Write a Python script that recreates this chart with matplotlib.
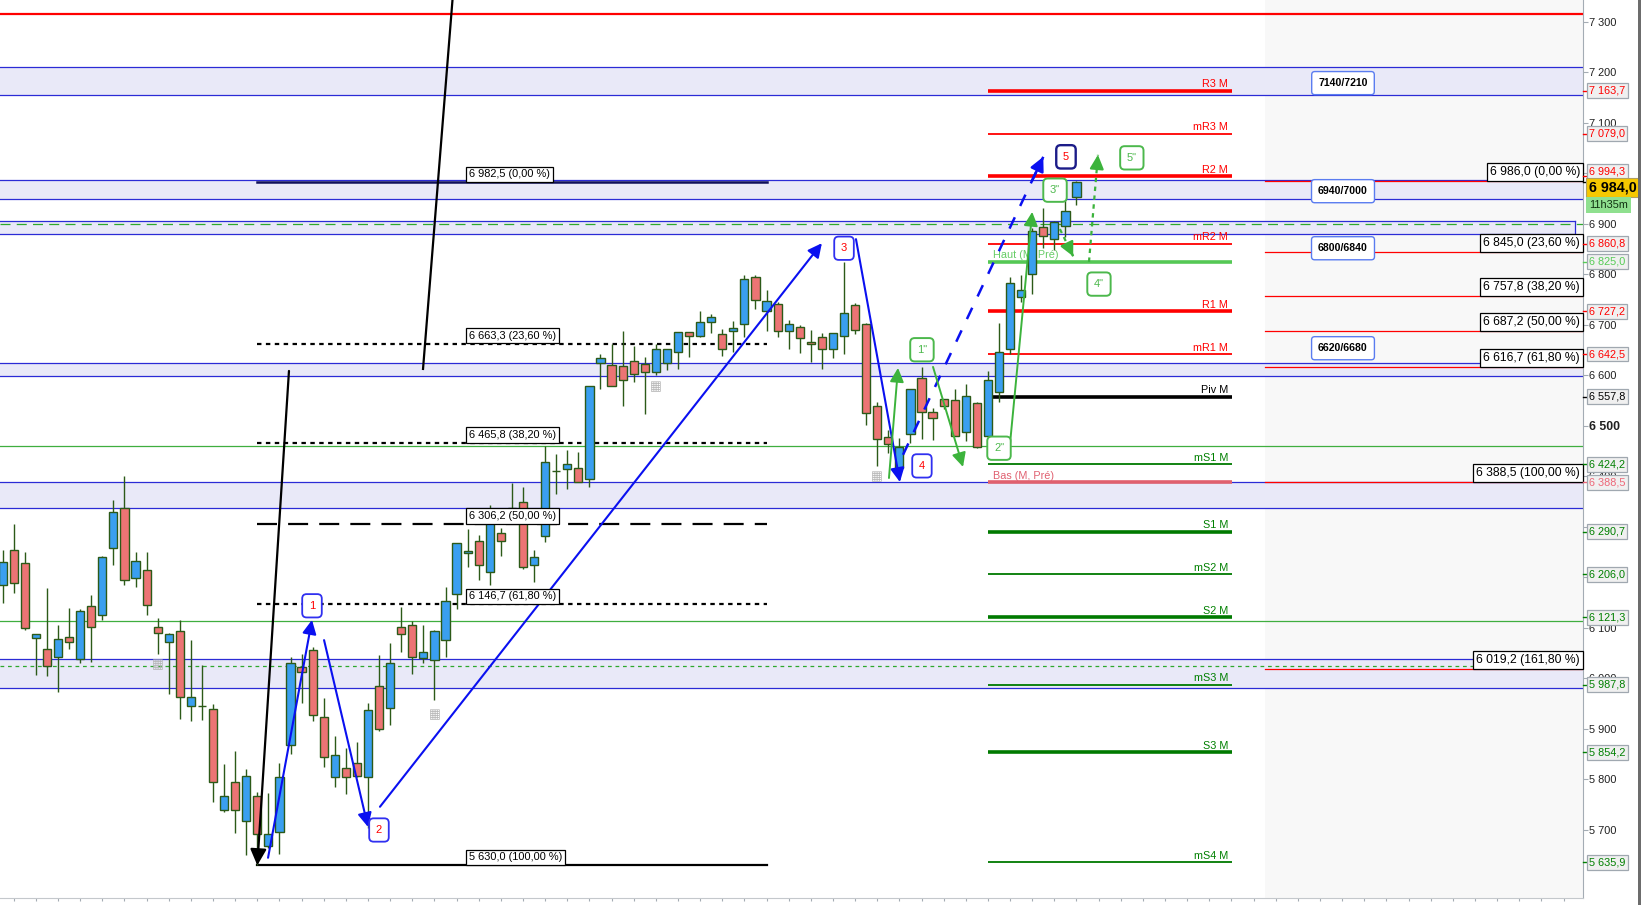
import matplotlib
matplotlib.use("Agg")
import matplotlib.pyplot as plt
from matplotlib.patches import Rectangle
import numpy as np

plt.rcParams['font.family'] = ['Liberation Sans', 'DejaVu Sans']

W, H = 1641, 905
AX_RIGHT = 1583
AX_BOTTOM = 898

# candles (open, high, low, close)
opens = [6186, 6254, 6228, 6080, 6058, 6043, 6082, 6039, 6143, 6125,
         6258, 6337, 6199, 6214, 6102, 6072, 6094, 5945, 5945, 5939,
         5739, 5795, 5717, 5767, 5669, 5696, 5868, 6022, 6057, 5923,
         5805, 5822, 5833, 5805, 5985, 5941, 6102, 6105, 6040, 6037,
         6076, 6167, 6248, 6273, 6210, 6288, 6318, 6349, 6225, 6282,
         6410, 6414, 6416, 6395, 6625, 6620, 6618, 6628, 6622, 6606,
         6624, 6646, 6686, 6678, 6705, 6682, 6688, 6702, 6796, 6728,
         6741, 6688, 6697, 6666, 6677, 6652, 6678, 6739, 6701, 6540,
         6478, 6416, 6484, 6596, 6528, 6553, 6552, 6489, 6545, 6481,
         6567, 6652, 6756, 6800, 6894, 6870, 6897, 6953]
highs = [6254, 6306, 6250, 6088, 6179, 6106, 6140, 6138, 6166, 6243,
         6354, 6400, 6250, 6251, 6119, 6091, 6116, 6076, 6027, 5950,
         5831, 5857, 5821, 5776, 5773, 5832, 6042, 6049, 6062, 5961,
         5886, 5862, 5874, 5951, 6047, 6071, 6142, 6113, 6106, 6096,
         6181, 6269, 6296, 6284, 6344, 6298, 6387, 6379, 6255, 6460,
         6445, 6452, 6449, 6579, 6643, 6662, 6688, 6659, 6636, 6662,
         6652, 6686, 6686, 6728, 6722, 6693, 6708, 6799, 6799, 6769,
         6745, 6710, 6700, 6690, 6685, 6685, 6825, 6744, 6703, 6547,
         6492, 6476, 6573, 6616, 6535, 6553, 6573, 6583, 6548, 6609,
         6703, 6796, 6799, 6893, 6931, 6905, 6963, 6985]
lows = [6150, 6170, 6096, 6006, 6004, 5974, 6059, 6030, 6033, 6116,
        6224, 6185, 6182, 6125, 6048, 5969, 5919, 5915, 5917, 5756,
        5736, 5695, 5651, 5630, 5664, 5653, 5851, 5952, 5915, 5824,
        5786, 5771, 5805, 5704, 5897, 5908, 6053, 6008, 6031, 5958,
        6043, 6138, 6221, 6195, 6185, 6243, 6308, 6217, 6192, 6271,
        6365, 6375, 6390, 6380, 6573, 6579, 6540, 6588, 6523, 6600,
        6610, 6612, 6637, 6676, 6685, 6639, 6647, 6676, 6731, 6689,
        6676, 6652, 6644, 6627, 6612, 6634, 6642, 6682, 6501, 6420,
        6446, 6414, 6466, 6474, 6472, 6533, 6481, 6470, 6457, 6481,
        6548, 6643, 6745, 6761, 6853, 6849, 6875, 6938]
closes = [6231, 6189, 6100, 6088, 6024, 6078, 6072, 6133, 6102, 6240,
          6329, 6195, 6232, 6145, 6090, 6088, 5963, 5963, 5945, 5795,
          5767, 5739, 5807, 5692, 5692, 5805, 6030, 6012, 5927, 5844,
          5848, 5805, 5807, 5937, 5900, 6030, 6088, 6043, 6052, 6094,
          6154, 6268, 6252, 6225, 6330, 6272, 6338, 6220, 6240, 6428,
          6410, 6424, 6390, 6579, 6634, 6579, 6592, 6602, 6606, 6652,
          6652, 6686, 6678, 6705, 6715, 6652, 6695, 6792, 6750, 6748,
          6688, 6701, 6674, 6662, 6652, 6685, 6724, 6690, 6525, 6474,
          6464, 6458, 6573, 6527, 6515, 6540, 6481, 6560, 6459, 6591,
          6647, 6783, 6769, 6886, 6876, 6903, 6926, 6984]
last_price = "6 984,0"
countdown = "11h35m"

# zones (low, high)
zones = [(7155, 7211), (6949, 6987), (6880, 6906), (6599, 6624), (6337, 6388.5), (5981, 6038)]
zone_names = ["7140/7210", "6940/7000", "6800/6840", "6620/6680"]
zone_name_y = [7179, 6965, 6852, 6654]
top_line = 7315
green_lines = [6460, 6113]
green_dashed = [6900, 6025]

# monthly pivots
piv_names = ['R3 M', 'mR3 M', 'R2 M', 'mR2 M', 'R1 M', 'mR1 M', 'Piv M',
             'mS1 M', 'S1 M', 'mS2 M', 'S2 M', 'mS3 M', 'S3 M', 'mS4 M']
piv_values = [7163.7, 7079.0, 6994.3, 6860.8, 6727.2, 6642.5, 6557.8,
              6424.2, 6290.7, 6206.0, 6121.3, 5987.8, 5854.2, 5635.9]
haut_prev = 6825.0
bas_prev = 6388.5

# fibonacci retracements
fib1_levels = [6982.5, 6663.3, 6465.8, 6306.2, 6146.7, 5630.0]
fib1_pcts = ['0,00', '23,60', '38,20', '50,00', '61,80', '100,00']
fib2_levels = [6986.0, 6845.0, 6757.8, 6687.2, 6616.7, 6388.5, 6019.2]
fib2_pcts = ['0,00', '23,60', '38,20', '50,00', '61,80', '100,00', '161,80']

# wave drawings (candle index, price)
black_legs = [((25.86, 6609), (23.0, 5630)), ((37.97, 6613), (40.8, 7390))]
blue_legs = [((23.97, 5645), (27.94, 6116)), ((29.03, 6076), (33.0, 5706)),
             ((34.08, 5746), (74.0, 6862)), ((77.08, 6870), (81.05, 6389))]
blue_dashed = ((81.33, 6443), (94.0, 7033))
blue_labels = [('1', 27.94, 6144), ('2', 33.99, 5700), ('3', 76.0, 6852),
               ('4', 83.04, 6421), ('5', 96.05, 7033)]
green_legs = [((80.06, 6397), (80.88, 6615)), ((84.04, 6617), (86.75, 6419)),
              ((91.0, 6466), (93.0, 6924))]
green_dotted = [((95.5, 6890), (96.7, 6836)), ((98.13, 6825), (98.94, 7037))]
green_labels = [('1"', 83.04, 6651), ('2"', 90.0, 6456), ('3"', 95.06, 6967),
                ('4"', 99.03, 6781), ('5"', 102.0, 7031)]
calendar_marks = [(14.0, 6027), (59.0, 6577), (79.0, 6399), (39.0, 5928)]


def ix(px):
    return (px - 2.7) / 11.07


PX = 1.9802          # price units per pixel
P_TOP = 7300 + 22 * PX
P_BOTTOM = P_TOP - AX_BOTTOM * PX


def fr(v):
    return f"{v:,.1f}".replace(',', ' ').replace('.', ',')


fig = plt.figure(figsize=(W / 100, H / 100), dpi=100)
fig.patch.set_facecolor('white')
ax = fig.add_axes([0, (H - AX_BOTTOM) / H, AX_RIGHT / W, AX_BOTTOM / H])
ax.set_xlim(ix(0), ix(AX_RIGHT))
ax.set_ylim(P_BOTTOM, P_TOP)
x_end = ix(AX_RIGHT)
ytr = ax.get_yaxis_transform()

for s in ['left', 'top']:
    ax.spines[s].set_visible(False)
ax.spines['right'].set_color('#a4acb4')
ax.spines['bottom'].set_color('#c4c8cc')

ax.set_xticks(np.arange(1, 143, 2))
ax.tick_params(axis='x', length=2.5, color='#a4acb4', labelbottom=False)
yt = np.arange(5700, 7400, 100)
hidden = [6200, 6300, 7000]   # covered by the level boxes
ax.yaxis.tick_right()
ax.set_yticks(yt)
ax.set_yticklabels(["" if t in hidden else f"{t // 1000} {t % 1000:03d}" for t in yt])
ax.tick_params(axis='y', length=3.6, pad=1, color='#a4acb4', labelsize=7.9, labelcolor='#202020')
for lab, t in zip(ax.get_yticklabels(), yt):
    if t == 6500:
        lab.set_fontweight('bold')
        lab.set_fontsize(8.8)

# background of the right part
ax.axvspan(ix(1265), x_end, color='#f8f8f8', zorder=0, lw=0)

# zones
for k, (lo, hi) in enumerate(zones):
    xr = ix(1575) if k == 2 else x_end
    ax.add_patch(Rectangle((ix(0), lo), xr - ix(0), hi - lo, fc='#e9e9f8', ec='none', zorder=1))
    ax.plot([ix(0), xr], [lo, lo], color='#2b2bd6', lw=0.9, zorder=1.5)
    ax.plot([ix(0), xr], [hi, hi], color='#2b2bd6', lw=0.9, zorder=1.5)
    if k == 2:
        ax.plot([xr, xr], [lo, hi], color='#2b2bd6', lw=0.9, zorder=1.5)

ax.plot([ix(0), x_end], [top_line, top_line], color='#ff0000', lw=1.6, zorder=2)
for g in green_lines:
    ax.plot([ix(0), x_end], [g, g], color='#3fae3f', lw=0.9, zorder=2)
ax.plot([ix(0), x_end], [green_dashed[0]] * 2, color='#2ea82e', lw=0.9, ls=(0, (8, 5)), zorder=2)
ax.plot([ix(0), x_end], [green_dashed[1]] * 2, color='#2ea82e', lw=0.9, ls=(0, (3, 3)), zorder=2)

# left fibonacci
fx0, fx1 = ix(257), ix(767)
fib1_styles = [dict(color='#10105a', lw=1.8, ls='-'),
               dict(color='black', lw=1.6, ls=(0, (2, 2))),
               dict(color='black', lw=1.6, ls=(0, (2, 2))),
               dict(color='black', lw=1.6, ls=(0, (9, 5))),
               dict(color='black', lw=1.6, ls=(0, (2, 2))),
               dict(color='black', lw=1.6, ls='-')]
for lv, pc, st in zip(fib1_levels, fib1_pcts, fib1_styles):
    ax.plot([fx0, fx1], [lv, lv], zorder=2.5, **st)
    ax.text(ix(469), lv + 6, f"{fr(lv)} ({pc} %)", fontsize=7.9, ha='left', va='bottom', zorder=6,
            bbox=dict(boxstyle='square,pad=0.25', fc='white', ec='black', lw=0.9))

# right fibonacci
for lv, pc in zip(fib2_levels, fib2_pcts):
    ax.plot([ix(1265), x_end], [lv, lv], color='#ff0000', lw=0.9, zorder=2)
    ax.text(ix(1580), lv + 6, f"{fr(lv)} ({pc} %)", fontsize=8.7, ha='right', va='bottom', zorder=6,
            bbox=dict(boxstyle='square,pad=0.25', fc='white', ec='black', lw=0.9))

# pivots
px0, px1 = ix(988), ix(1232)
for name, v in zip(piv_names, piv_values):
    major = not name.startswith('m')
    if name.startswith('Piv'):
        col, tcol = 'black', 'black'
    elif 'R' in name:
        col, tcol = '#ff0000', '#ff0000'
    else:
        col, tcol = '#007a00', '#008000'
    ax.plot([px0, px1], [v, v], color=col, lw=2.6 if major else 1.3, zorder=2.6, solid_capstyle='butt')
    ax.text(ix(1228), v + 3, name, color=tcol, fontsize=7.8, ha='right', va='bottom', zorder=2.7)
ax.plot([px0, px1], [haut_prev] * 2, color='#55c855', lw=2.6, zorder=2.6, solid_capstyle='butt')
ax.text(ix(993), haut_prev + 3, 'Haut (M, Pré)', color='#66cc66', fontsize=7.8, ha='left', va='bottom', zorder=2.7)
ax.plot([px0, px1], [bas_prev] * 2, color='#e0606e', lw=2.6, zorder=2.6, solid_capstyle='butt')
ax.text(ix(993), bas_prev + 3, 'Bas (M, Pré)', color='#e06070', fontsize=7.8, ha='left', va='bottom', zorder=2.7)

# zone names
for name, y in zip(zone_names, zone_name_y):
    ax.text(ix(1343), y, name, fontsize=7.6, fontweight='bold', ha='center', va='center', zorder=6,
            bbox=dict(boxstyle='round,pad=0.62,rounding_size=0.3', fc='white', ec='#5a7cf0', lw=1))

# candles
o = np.array(opens, float)
c = np.array(closes, float)
xi = np.arange(len(o))
edge = '#2c5a18'
ax.vlines(xi, lows, highs, color=edge, lw=1, zorder=3)
ax.bar(xi, np.abs(c - o), bottom=np.minimum(o, c), width=0.74,
       color=np.where(c > o, '#3a9ff0', '#ec7474'), edgecolor=edge, linewidth=1, zorder=4)

for cx, cy in calendar_marks:
    ax.text(cx, cy, '\u25a6', color='#b4b4b4', fontsize=9, ha='center', va='center', zorder=4.5,
            family='DejaVu Sans')


def arrow(p0, p1, col, lw, ls='-', head=12):
    if ls == '-':
        ax.annotate('', xy=p1, xytext=p0, zorder=5,
                    arrowprops=dict(arrowstyle='-|>,head_length=0.7,head_width=0.35', color=col, lw=lw,
                                    shrinkA=0, shrinkB=0, mutation_scale=head))
    else:
        ax.plot([p0[0], p1[0]], [p0[1], p1[1]], color=col, lw=lw, ls=ls, zorder=5)
        q = (p1[0] - (p1[0] - p0[0]) * 0.08, p1[1] - (p1[1] - p0[1]) * 0.08)
        ax.annotate('', xy=p1, xytext=q, zorder=5,
                    arrowprops=dict(arrowstyle='-|>,head_length=0.7,head_width=0.35', color=col, lw=lw,
                                    shrinkA=0, shrinkB=0, mutation_scale=head))


# black legs
arrow(black_legs[0][0], black_legs[0][1], 'black', 1.6, head=14)
ax.plot(*zip(*black_legs[1]), color='black', lw=1.6, zorder=5)

for p0, p1 in blue_legs:
    arrow(p0, p1, '#0a10f0', 1.5)
arrow(blue_dashed[0], blue_dashed[1], '#0a10f0', 1.8, ls=(0, (5, 5)))
for p0, p1 in green_legs:
    arrow(p0, p1, '#3cb33c', 1.4)
for p0, p1 in green_dotted:
    arrow(p0, p1, '#3cb33c', 1.6, ls=(0, (2, 2)))

for s, lx, ly in blue_labels:
    ec = '#1c1c88' if s == '5' else '#3030f0'
    ax.text(lx, ly, s, color='#ff0000', fontsize=8, ha='center', va='center', zorder=6,
            bbox=dict(boxstyle='round,pad=0.6,rounding_size=0.4', fc='white', ec=ec, lw=1.7 if s == '5' else 1.3))
for s, lx, ly in green_labels:
    ax.text(lx, ly, s, color='#4cb84c', fontsize=8, ha='center', va='center', zorder=6,
            bbox=dict(boxstyle='round,pad=0.6,rounding_size=0.4', fc='white', ec='#4cb84c', lw=1.4))

# price labels on the axis
axis_vals = piv_values + [haut_prev, bas_prev]
axis_cols = []
for name in piv_names:
    if name.startswith('Piv'):
        axis_cols.append('#000000')
    elif 'R' in name:
        axis_cols.append('#ff0000')
    else:
        axis_cols.append('#008000')
axis_cols += ['#55cc55', '#ee6677']
xa = 1589 / AX_RIGHT
for v, col in zip(axis_vals, axis_cols):
    ty = v + 9 if v == 6994.3 else v
    ax.plot([1.0, 1587 / AX_RIGHT], [v, v], color=col, lw=1, transform=ytr, clip_on=False, zorder=7)
    ax.text(xa, ty, fr(v), color=col, fontsize=7.8, ha='left', va='center', transform=ytr,
            clip_on=False, zorder=8,
            bbox=dict(boxstyle='square,pad=0.22', fc='#f0f0f0', ec='#a0a8b0', lw=0.9))

ax.plot([1.0, 1587 / AX_RIGHT], [closes[-1]] * 2, color='black', lw=1, transform=ytr, clip_on=False, zorder=7)
ax.text(xa, closes[-1] - 11, last_price, fontsize=10.3, fontweight='bold', ha='left', va='center',
        transform=ytr, clip_on=False, zorder=9,
        bbox=dict(boxstyle='square,pad=0.18', fc='#f6c800', ec='#b0a060', lw=0.8))
ax.text(xa, closes[-1] - 46, countdown, fontsize=7.8, ha='left', va='center', color='#103010',
        transform=ytr, clip_on=False, zorder=9,
        bbox=dict(boxstyle='square,pad=0.25', fc='#8fe08f', ec='none'))

fig.patches.append(Rectangle((1638 / W, 0), 3 / W, 1, transform=fig.transFigure, fc='#6c6c6c', ec='none'))

fig.savefig('out.png', dpi=100)
